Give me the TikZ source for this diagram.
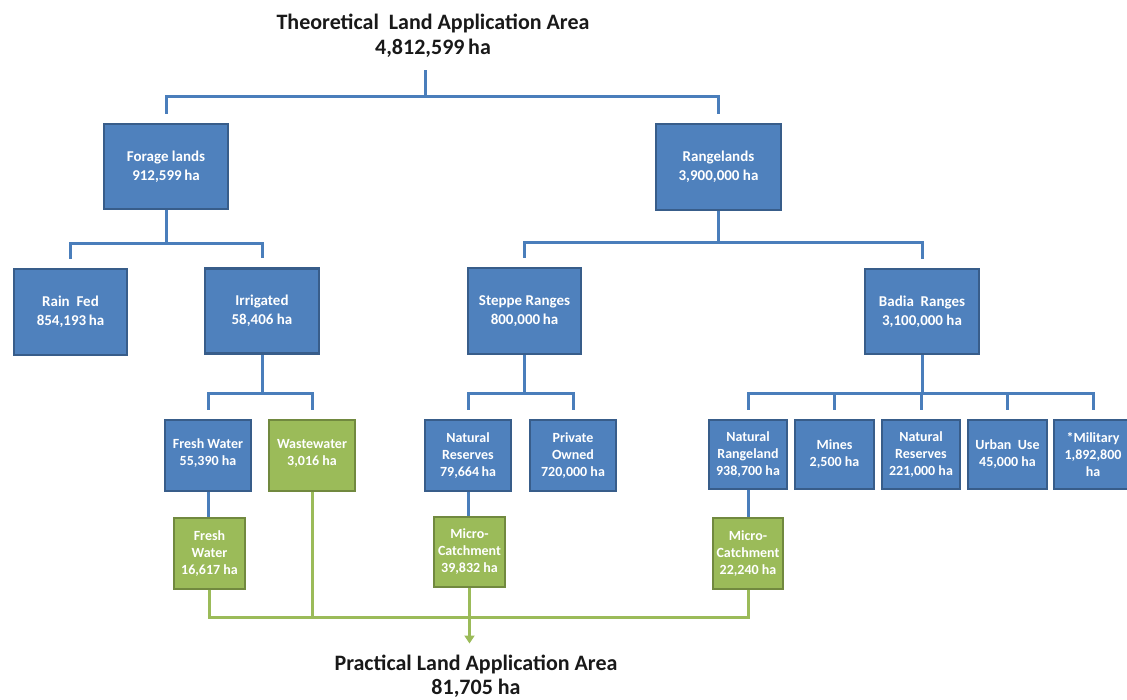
\documentclass[tikz,border=0pt]{standalone}
\usepackage{fontspec}
\setmainfont{Carlito}
\usetikzlibrary{arrows.meta}
\definecolor{boxblue}{HTML}{4F81BD}
\definecolor{edgeblue}{HTML}{385D8A}
\definecolor{boxgreen}{HTML}{9BBB59}
\definecolor{edgegreen}{HTML}{71893F}
\definecolor{linkblue}{HTML}{4A7EBB}
\definecolor{linkgreen}{HTML}{9BBB59}
\begin{document}
\begin{tikzpicture}[x=1pt,y=-1pt,
  box/.style={rectangle, line width=2.6pt, inner sep=0pt, align=center, text=white},
  bigbox/.style={box, fill=boxblue, draw=edgeblue, font=\bfseries\fontsize{15}{19}\selectfont},
  bluebox/.style={box, fill=boxblue, draw=edgeblue, font=\bfseries\fontsize{14}{17}\selectfont},
  greenbox/.style={box, fill=boxgreen, draw=edgegreen, font=\bfseries\fontsize{14}{17}\selectfont},
  bl/.style={draw=linkblue, line width=3pt},
  gl/.style={draw=linkgreen, line width=3pt},
  both/.style={shorten <=9pt, shorten >=9pt},
  heading/.style={inner sep=0pt, align=center, text=black!90, anchor=north}]

\useasboundingbox (0,0) rectangle (1127,699);

% headings
\node[heading, font=\bfseries\fontsize{22}{24.5}\selectfont] (theory) at (433,14)
  {Theoretical~ Land Application Area\\4,812,599\,ha};
\node[heading, font=\bfseries\fontsize{22}{24.5}\selectfont] (practical) at (476,654.5)
  {Practical Land Application Area\\81,705 ha};

% first and second levels
\node[bigbox, minimum width=124pt, minimum height=85pt] (forage) at (166,166.5) {Forage lands\\912,599\,ha};
\node[bigbox, minimum width=125pt, minimum height=86pt] (range) at (718.5,167) {Rangelands\\3,900,000 ha};
\node[bigbox, minimum width=113pt, minimum height=86pt] (rainfed) at (70.5,312) {Rain~ Fed\\854,193\,ha};
\node[bigbox, minimum width=114pt, minimum height=85pt] (irrig) at (262,311) {Irrigated\\58,406 ha};
\node[bigbox, minimum width=113pt, minimum height=86pt] (steppe) at (524.5,311) {Steppe Ranges\\800,000\,ha};
\node[bigbox, minimum width=114pt, minimum height=85pt] (badia) at (922,311.5) {Badia~ Ranges\\3,100,000 ha};

% third level
\node[bluebox, minimum width=86pt, minimum height=71pt] (fw) at (208,455.5) {Fresh Water\\55,390 ha\\[-10pt]};
\node[greenbox, minimum width=86pt, minimum height=71pt] (waste) at (312,455.5) {Wastewater\\3,016 ha\\[-10pt]};
\node[bluebox, minimum width=86pt, minimum height=71pt] (natres) at (468,455.5) {Natural\\Reserves\\79,664\,ha};
\node[bluebox, minimum width=86pt, minimum height=71pt] (private) at (573,455.5) {Private\\Owned\\720,000 ha};
\node[bluebox, minimum width=78pt, minimum height=69pt] (natrange) at (748,454.5) {Natural\\Rangeland\\938,700 ha};
\node[bluebox, minimum width=79pt, minimum height=69pt] (mines) at (834.5,454.5) {Mines\\2,500 ha};
\node[bluebox, minimum width=78pt, minimum height=69pt] (natres2) at (921,454.5) {Natural\\Reserves\\221,000 ha};
\node[bluebox, minimum width=79pt, minimum height=69pt] (urban) at (1007.5,454.5) {Urban~ Use\\45,000 ha};
\node[bluebox, minimum width=78pt, minimum height=69pt] (military) at (1093,454.5) {*Military\\1,892,800\\ha};

% practical areas
\node[greenbox, minimum width=71pt, minimum height=71pt] (fwg) at (209.5,553.5) {Fresh\\Water\\16,617 ha};
\node[greenbox, minimum width=71pt, minimum height=70pt] (mc1) at (469.5,552) {Micro-\\Catchment\\39,832 ha};
\node[greenbox, minimum width=70pt, minimum height=71pt] (mc2) at (748,553.5) {Micro-\\Catchment\\22,240 ha};

% bus levels
\coordinate (tstem) at (425,70);
\coordinate (busT) at (0,96);
\coordinate (busF) at (0,243);
\coordinate (busR) at (0,242);
\coordinate (busL) at (0,393);
\coordinate (busG) at (0,617);

% blue tree
\draw[bl] (tstem) -- (tstem |- busT);
\draw[bl, both] (forage.north) -- (forage.north |- busT) -- (range.north |- busT) -- (range.north);

\draw[bl] (forage.south) -- (forage.south |- busF);
\draw[bl, both] (rainfed.north) -- (rainfed.north |- busF) -- (irrig.north |- busF) -- (irrig.north);

\draw[bl] (range.south) -- (range.south |- busR);
\draw[bl, both] (steppe.north) -- (steppe.north |- busR) -- (badia.north |- busR) -- (badia.north);

\draw[bl] (irrig.south) -- (irrig.south |- busL);
\draw[bl, both] (fw.north) -- (fw.north |- busL) -- (waste.north |- busL) -- (waste.north);

\draw[bl] (steppe.south) -- (steppe.south |- busL);
\draw[bl, both] (natres.north) -- (natres.north |- busL) -- (private.north |- busL) -- (private.north);

\draw[bl] (badia.south) -- (badia.south |- busL);
\draw[bl, both] (natrange.north) -- (natrange.north |- busL) -- (military.north |- busL) -- (military.north);
\foreach \n in {mines,natres2,urban}
  \draw[bl, shorten >=9pt] (\n.north |- busL) -- (\n.north);

\draw[bl] (fw.south) -- (fw.south |- fwg.north);
\draw[bl] (natres.south) -- (natres.south |- mc1.north);
\draw[bl] (natrange.south) -- (natrange.south |- mc2.north);

% green collection towards the practical area
\draw[gl] (fwg.south) -- (fwg.south |- busG) -- (mc2.south |- busG) -- (mc2.south);
\draw[gl] (waste.south) -- (waste.south |- busG);
\draw[gl, -{Triangle[width=10pt,length=8pt]}, shorten >=11pt] (mc1.south) -- (mc1.south |- practical.north);
\end{tikzpicture}
\end{document}
